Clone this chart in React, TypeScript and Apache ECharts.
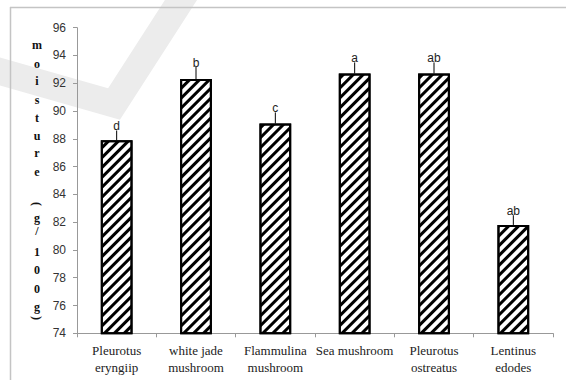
import React, { useEffect, useRef } from "react";
import * as echarts from "echarts";

// Moisture content (g/100g) of six edible mushrooms, mean ± SD with significance letters
const categories = [
  "Pleurotus\neryngiip",
  "white jade\nmushroom",
  "Flammulina\nmushroom",
  "Sea mushroom",
  "Pleurotus\nostreatus",
  "Lentinus\nedodes",
];
const moisture = [87.9, 92.3, 89.1, 92.7, 92.7, 81.8];
const stdDev = [0.7, 0.9, 0.8, 0.8, 0.8, 0.7];
const groupLetters = ["d", "b", "c", "a", "ab", "ab"];
const yTicks = { min: 74, max: 96, step: 2 };

// Vertical y-axis title, one glyph per line; brackets are turned sideways
const titleGlyphs = ["m", "o", "i", "s", "t", "u", "r", "e", "(", "g", "/", "1", "0", "0", "g", ")"];
const titleGlyphY = [45, 64, 81, 100, 118, 136, 153, 172, 204, 218, 231, 252, 270, 289, 307, 318];

export default function App() {
  const ref = useRef<HTMLDivElement>(null);

  useEffect(() => {
    if (!ref.current) return;
    const chart = echarts.init(ref.current, undefined, { renderer: "svg" });

    const errorData = moisture.map((v, i) => [i, v, stdDev[i]]);

    const titleTexts = titleGlyphs.map((ch, i) => {
      const bracket = ch === "(" || ch === ")";
      return {
        type: "text",
        x: 37,
        y: titleGlyphY[i],
        z: 5,
        rotation: bracket ? -Math.PI / 2 : 0,
        style: {
          text: ch,
          fill: "#111",
          font: "bold 12px 'Liberation Serif', serif",
          textAlign: "center",
          textVerticalAlign: "middle",
        },
      };
    });

    chart.setOption({
      animation: false,
      backgroundColor: "#fff",
      grid: { left: 77, right: 13, top: 27.7, bottom: 46.7, containLabel: false },
      graphic: [
        {
          type: "polyline",
          z: -10,
          silent: true,
          shape: { points: [[-12, 68], [114, 104], [190, -14]] },
          style: { stroke: "#ececec", lineWidth: 27, fill: null, lineJoin: "miter" },
        },
        {
          type: "line",
          z: -5,
          shape: { x1: 10, y1: 7.5, x2: 566, y2: 7.5 },
          style: { stroke: "#c4c4c4", lineWidth: 1.5 },
        },
        {
          type: "line",
          z: -5,
          shape: { x1: 10.5, y1: 7, x2: 10.5, y2: 380 },
          style: { stroke: "#c4c4c4", lineWidth: 1.5 },
        },
        ...titleTexts,
      ],
      xAxis: {
        type: "category",
        data: categories,
        axisLine: { show: true, lineStyle: { color: "#999", width: 1 } },
        axisTick: { show: true, length: 4, lineStyle: { color: "#999" } },
        axisLabel: {
          interval: 0,
          margin: 9,
          fontFamily: "'Liberation Serif', serif",
          fontSize: 13,
          lineHeight: 17,
          color: "#222",
        },
        splitLine: { show: false },
      },
      yAxis: {
        type: "value",
        min: yTicks.min,
        max: yTicks.max,
        interval: yTicks.step,
        axisLine: { show: true, lineStyle: { color: "#999", width: 1 } },
        axisTick: { show: true, length: 4, lineStyle: { color: "#999" } },
        axisLabel: {
          margin: 11,
          fontFamily: "'Liberation Sans', sans-serif",
          fontSize: 12,
          color: "#333",
        },
        splitLine: { show: false },
      },
      series: [
        {
          type: "bar",
          data: moisture,
          barWidth: "40%",
          z: 2,
          itemStyle: {
            color: "#fff",
            borderColor: "#000",
            borderWidth: 2,
            decal: {
              symbol: "rect",
              symbolSize: 1,
              color: "#000",
              dashArrayX: [1, 0],
              dashArrayY: [2.5, 3.5],
              rotation: -Math.PI / 4,
            },
          },
        },
        {
          type: "custom",
          z: 3,
          data: errorData,
          encode: { x: 0, y: 1 },
          renderItem: (params: any, api: any) => {
            const idx = api.value(0);
            const v = api.value(1);
            const e = api.value(2);
            const base = api.coord([idx, v]);
            const top = api.coord([idx, v + e]);
            return {
              type: "group",
              children: [
                {
                  type: "line",
                  shape: { x1: base[0], y1: base[1], x2: top[0], y2: top[1] },
                  style: { stroke: "#000", lineWidth: 1 },
                },
                {
                  type: "text",
                  x: top[0],
                  y: top[1] + 2,
                  style: {
                    text: groupLetters[params.dataIndex],
                    fill: "#222",
                    font: "12px 'Liberation Sans', sans-serif",
                    textAlign: "center",
                    textVerticalAlign: "bottom",
                  },
                },
              ],
            };
          },
        },
      ],
    });

    return () => chart.dispose();
  }, []);

  return <div ref={ref} style={{ width: 566, height: 380, position: "absolute", left: 0, top: 0 }} />;
}
